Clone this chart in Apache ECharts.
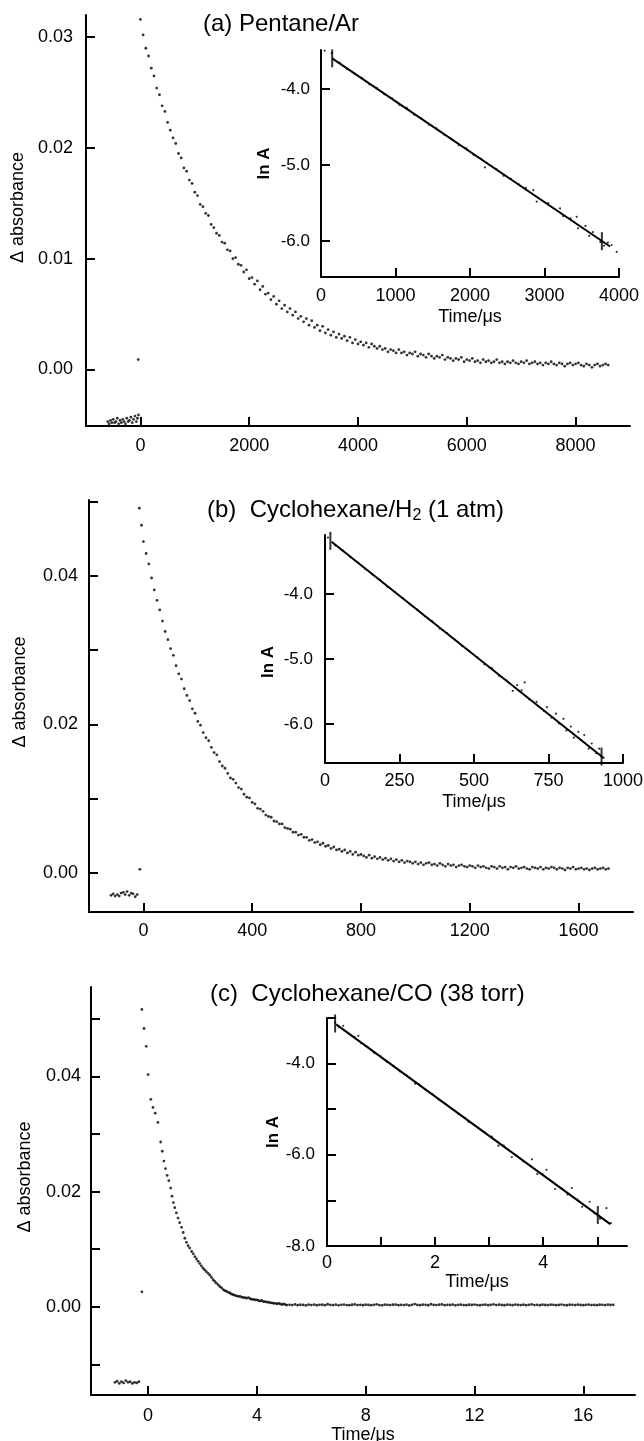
<!DOCTYPE html>
<html>
<head>
<meta charset="utf-8">
<script src="https://cdn.jsdelivr.net/npm/echarts@6/dist/echarts.min.js"></script>
<style>
  html, body { margin: 0; padding: 0; background: #fff; }
  #chart { width: 644px; height: 1441px; }
</style>
</head>
<body>
<div id="chart"></div>
<script>
const FONT = '"Liberation Sans", Arial, Helvetica, sans-serif';

// ---- (a) Pentane/Ar : time in us, absorbance in milli-units ----
const aPre = [[-600,-4.7],[-575,-4.9],[-550,-4.6],[-525,-4.8],[-500,-4.5],[-475,-4.8],[-450,-4.7],[-425,-4.4],[-400,-4.9],[-375,-4.6],[-350,-4.8],[-325,-4.5],[-300,-4.7],[-275,-4.9],[-250,-4.4],[-225,-4.7],[-200,-4.6],[-175,-4.3],[-150,-4.8],[-125,-4.5],[-100,-4.2],[-75,-4.7],[-55,-4.4],[-35,-4.1],[-40,0.9]];
const aDecay = [[0,31.6],[50,30.2],[100,29.0],[150,28.3],[200,27.2],[250,26.5],[300,25.4],[350,24.8],[400,23.8],[450,23.3],[500,22.3],[550,21.6],[600,20.9],[650,20.4],[700,19.5],[750,19.1],[800,18.2],[850,17.9],[900,17.1],[950,16.8],[1000,16.0],[1050,15.7],[1100,14.9],[1150,14.7],[1200,14.1],[1250,13.9],[1300,13.1],[1350,12.8],[1400,12.3],[1450,12.1],[1500,11.5],[1550,11.4],[1600,10.8],[1650,10.7],[1700,10.0],[1750,10.1],[1800,9.5],[1850,9.4],[1900,8.8],[1950,9.0],[2000,8.2],[2050,8.3],[2100,7.7],[2150,8.0],[2200,7.2],[2250,7.5],[2300,6.8],[2350,6.9],[2400,6.3],[2450,6.6],[2500,5.9],[2550,6.2],[2600,5.5],[2650,5.8],[2700,5.2],[2750,5.5],[2800,4.9],[2850,5.2],[2900,4.6],[2950,4.8],[3000,4.3],[3050,4.6],[3100,4.0],[3150,4.4],[3200,3.8],[3250,4.0],[3300,3.5],[3350,3.9],[3400,3.3],[3450,3.6],[3500,3.1],[3550,3.4],[3600,2.9],[3650,3.2],[3700,2.8],[3750,3.0],[3800,2.6],[3850,2.9],[3900,2.4],[3950,2.7],[4000,2.3],
  [4050,2.5],[4100,2.2],[4150,2.4],[4200,2.0],[4250,2.3],[4300,2.1],[4350,1.9],[4400,2.1],[4450,1.8],[4500,1.9],[4550,1.6],[4600,1.8],[4650,1.7],[4700,1.5],[4750,1.8],[4800,1.5],[4850,1.6],[4900,1.3],[4950,1.5],[5000,1.4],[5050,1.6],[5100,1.2],[5150,1.4],[5200,1.3],[5250,1.1],[5300,1.4],[5350,1.2],[5400,1.0],[5450,1.2],[5500,1.1],[5550,1.3],[5600,0.9],[5650,1.1],[5700,1.0],[5750,0.8],[5800,1.0],[5850,0.9],[5900,1.1],[5950,0.7],[6000,0.9],[6050,0.8],[6100,1.0],[6150,0.7],[6200,0.8],[6250,0.6],[6300,0.9],[6350,0.7],[6400,0.8],[6450,0.6],[6500,0.7],[6550,0.9],[6600,0.6],[6650,0.7],[6700,0.5],[6750,0.7],[6800,0.6],[6850,0.8],[6900,0.6],[6950,0.5],[7000,0.7],[7050,0.6],[7100,0.8],[7150,0.5],[7200,0.6],[7250,0.7],[7300,0.5],[7350,0.6],[7400,0.4],[7450,0.6],[7500,0.5],[7550,0.7],[7600,0.5],[7650,0.4],[7700,0.6],[7750,0.5],[7800,0.3],[7850,0.5],[7900,0.6],[7950,0.4],[8000,0.5],[8050,0.6],[8100,0.4],[8150,0.3],[8200,0.5],[8250,0.4],[8300,0.2],[8350,0.4],[8400,0.5],[8450,0.3],[8500,0.4],[8550,0.5],[8600,0.4]];
const aLnA = [[50,-3.50],[143,-3.53],[250,-3.66],[350,-3.74],[450,-3.80],[550,-3.86],[650,-3.94],[750,-3.99],[850,-4.07],[950,-4.12],[1050,-4.21],[1150,-4.25],[1250,-4.34],[1350,-4.39],[1450,-4.47],[1550,-4.52],[1650,-4.60],[1750,-4.66],[1850,-4.74],[1950,-4.78],[2050,-4.87],[2150,-4.92],[2200,-5.03],[2350,-5.05],[2450,-5.14],[2550,-5.18],[2650,-5.25],[2750,-5.30],[2850,-5.33],[2895,-5.48],[3050,-5.50],[3208,-5.57],[3250,-5.67],[3350,-5.70],[3432,-5.68],[3450,-5.83],[3550,-5.80],[3600,-5.93],[3650,-5.88],[3750,-6.01],[3800,-6.06],[3850,-6.02],[3901,-6.05],[3969,-6.14]];
const aFit = [[150,-3.60],[3880,-6.07]];
const aFitMarks = [[150,-3.60],[3770,-6.00]];

// ---- (b) Cyclohexane/H2 (1 atm) ----
const bPre = [[-119,-3.0],[-111,-2.8],[-104,-3.1],[-96,-2.9],[-89,-3.1],[-82,-2.7],[-74,-2.6],[-67,-2.9],[-60,-2.5],[-52,-3.0],[-45,-2.7],[-38,-2.8],[-30,-3.2],[-23,-2.9],[-13,0.5]];
const bDecay = [[-15,49.1],[-7,46.8],[0,44.6],[10,43.0],[20,41.6],[30,39.7],[40,38.1],[50,36.7],[60,35.4],[70,33.9],[80,32.5],[90,31.4],[100,30.2],[110,29.3],[120,27.9],[130,26.8],[140,26.1],[150,24.8],[160,23.9],[170,23.2],[180,22.1],[190,21.5],[200,20.4],[210,19.9],[220,18.9],[230,18.2],[240,17.8],[250,16.9],[260,16.2],[270,15.9],[280,15.0],[290,14.4],[300,14.1],[310,13.4],[320,12.8],[330,12.6],[340,12.1],[350,11.5],[360,11.3],[370,10.6],[380,10.2],[390,10.1],[400,9.5],[410,9.3],[420,8.7],[430,8.6],[440,8.3],[450,7.8],[460,7.6],[470,7.5],[480,7.0],[490,6.9],[500,6.6],[510,6.6],[520,6.1],[530,6.0],[540,5.9],[550,5.5],[560,5.5],[570,5.1],[580,5.2],[590,4.8],[600,4.8],[610,4.4],[620,4.5],[630,4.1],[640,4.2],[650,3.8],[660,4.0],[670,3.6],[680,3.7],[690,3.3],[700,3.5],[710,3.1],[720,3.2],[730,2.9],[740,3.1],[750,2.7],[760,2.9],[770,2.5],[780,2.8],[790,2.4],[800,2.5],
  [810,2.3],[820,2.1],[830,2.4],[840,2.0],[850,2.2],[860,1.9],[870,2.1],[880,1.8],[890,2.0],[900,1.7],[910,1.9],[920,1.6],[930,1.8],[940,1.5],[950,1.7],[960,1.4],[970,1.6],[980,1.5],[990,1.3],[1000,1.5],[1010,1.2],[1020,1.4],[1030,1.1],[1040,1.3],[1050,1.4],[1060,1.1],[1070,1.2],[1080,1.0],[1090,1.3],[1100,1.1],[1110,0.9],[1120,1.2],[1130,1.0],[1140,1.1],[1150,0.8],[1160,1.0],[1170,1.1],[1180,0.9],[1190,0.8],[1200,1.0],[1210,0.9],[1220,0.7],[1230,1.0],[1240,0.8],[1250,0.9],[1260,0.7],[1270,0.6],[1280,0.9],[1290,0.8],[1300,0.6],[1310,0.9],[1320,0.7],[1330,0.8],[1340,0.5],[1350,0.8],[1360,0.7],[1370,0.9],[1380,0.6],[1390,0.7],[1400,0.8],[1410,0.6],[1420,0.5],[1430,0.8],[1440,0.7],[1450,0.6],[1460,0.8],[1470,0.5],[1480,0.7],[1490,0.6],[1500,0.8],[1510,0.7],[1520,0.5],[1530,0.7],[1540,0.6],[1550,0.4],[1560,0.7],[1570,0.6],[1580,0.8],[1590,0.5],[1600,0.6],[1610,0.7],[1620,0.5],[1630,0.6],[1640,0.4],[1650,0.6],[1660,0.7],[1670,0.5],[1680,0.6],[1690,0.7],[1700,0.5],[1710,0.6]];
const bLnA = [[10,-3.13],[35,-3.25],[60,-3.33],[85,-3.43],[110,-3.51],[135,-3.61],[160,-3.70],[185,-3.78],[210,-3.89],[235,-3.97],[260,-4.06],[285,-4.16],[310,-4.24],[335,-4.34],[360,-4.42],[385,-4.53],[410,-4.60],[435,-4.70],[460,-4.80],[485,-4.88],[510,-4.97],[535,-5.08],[560,-5.14],[585,-5.26],[610,-5.33],[630,-5.49],[645,-5.40],[660,-5.48],[670,-5.36],[685,-5.62],[710,-5.66],[735,-5.80],[745,-5.74],[760,-5.90],[775,-5.84],[785,-5.99],[800,-5.92],[810,-6.10],[825,-6.04],[835,-6.21],[850,-6.12],[860,-6.25],[870,-6.17],[885,-6.38],[895,-6.30],[910,-6.45],[920,-6.38],[935,-6.52]];
const bFit = [[22,-3.195],[934,-6.52]];
const bFitMarks = [[18,-3.18],[928,-6.50]];

// ---- (c) Cyclohexane/CO (38 torr) ----
const cPre = [[-1.22,-13.1],[-1.14,-12.9],[-1.06,-13.3],[-0.98,-13.0],[-0.90,-13.2],[-0.82,-12.8],[-0.74,-13.1],[-0.66,-13.0],[-0.58,-13.3],[-0.50,-13.1],[-0.42,-13.2],[-0.34,-13.0],[-0.23,2.6]];
const cDecay = [[-0.23,51.6],[-0.15,48.3],[-0.07,45.2],[0.0,40.3],[0.10,36.0],[0.18,34.6],[0.26,33.6],[0.36,32.0],[0.46,28.6],[0.52,27.0],[0.58,25.3],[0.64,24.0],[0.70,22.8],[0.76,21.9],[0.83,20.6],[0.88,19.2],[0.93,18.1],[0.98,17.2],[1.04,16.3],[1.10,15.4],[1.16,14.6],[1.23,13.8],[1.29,12.9],[1.35,11.9],[1.41,11.2],[1.47,10.6],[1.53,10.2],[1.60,9.6],[1.66,9.2],[1.72,8.7],[1.78,8.3],[1.84,7.9],[1.90,7.5],[1.96,7.1],[2.02,6.7],[2.08,6.4],[2.14,6.1],[2.21,5.8],[2.27,5.5],[2.33,5.1],[2.39,4.7],[2.45,4.4],[2.51,4.1],[2.58,3.8],[2.64,3.5],[2.70,3.3],[2.76,3.0],[2.82,2.8],[2.88,2.7],[2.95,2.5],[3.01,2.4],[3.07,2.2],[3.13,2.1],[3.19,2.0],[3.25,1.9],[3.32,1.8],[3.38,1.8],[3.44,1.7],[3.50,1.6],[3.56,1.6],[3.62,1.5],[3.69,1.6],[3.75,1.4],[3.81,1.3],[3.87,1.3],[3.93,1.2],[4.00,1.2],[4.06,1.1],[4.12,1.0],[4.18,1.1],[4.24,0.9],[4.30,0.9],[4.37,0.8],[4.43,0.8],[4.49,0.7],[4.55,0.7],[4.61,0.6],[4.67,0.6],[4.74,0.5],[4.80,0.6],[4.86,0.5],[4.92,0.4],[4.98,0.5],[5.04,0.4],[5.10,0.3],
  [5.2,0.35],[5.3,0.30],[5.4,0.42],[5.5,0.28],[5.6,0.36],[5.7,0.33],[5.8,0.25],[5.9,0.38],[6.0,0.31],[6.1,0.40],[6.2,0.27],[6.3,0.34],[6.4,0.36],[6.5,0.29],[6.6,0.45],[6.7,0.33],[6.8,0.30],[6.9,0.37],[7.0,0.26],[7.1,0.35],[7.2,0.39],[7.3,0.31],[7.4,0.28],[7.5,0.36],[7.6,0.42],[7.7,0.30],[7.8,0.34],[7.9,0.27],[8.0,0.38],[8.1,0.33],[8.2,0.29],[8.3,0.35],[8.4,0.44],[8.5,0.31],[8.6,0.26],[8.7,0.37],[8.8,0.33],[8.9,0.30],[9.0,0.36],[9.1,0.40],[9.2,0.28],[9.3,0.34],[9.4,0.31],[9.5,0.38],[9.6,0.25],[9.7,0.35],[9.8,0.48],[9.9,0.32],[10.0,0.29],[10.1,0.37],[10.2,0.34],[10.3,0.27],[10.4,0.45],[10.5,0.33],[10.6,0.30],[10.7,0.36],[10.8,0.41],[10.9,0.29],[11.0,0.35],[11.1,0.32],[11.2,0.38],[11.3,0.26],[11.4,0.34],[11.5,0.37],[11.6,0.30],[11.7,0.28],[11.8,0.36],[11.9,0.33],[12.0,0.40],[12.1,0.31],[12.2,0.27],[12.3,0.35],[12.4,0.38],[12.5,0.29],[12.6,0.34],[12.7,0.43],[12.8,0.30],[12.9,0.36],[13.0,0.32],[13.1,0.27],[13.2,0.37],[13.3,0.34],[13.4,0.29],[13.5,0.39],[13.6,0.33],[13.7,0.30],[13.8,0.36],[13.9,0.28],[14.0,0.35],[14.1,0.41],[14.2,0.31],[14.3,0.34],[14.4,0.27],[14.5,0.37],[14.6,0.32],[14.7,0.30],[14.8,0.38],[14.9,0.35],[15.0,0.29],[15.1,0.33],[15.2,0.40],[15.3,0.31],[15.4,0.27],[15.5,0.36],[15.6,0.34],[15.7,0.30],[15.8,0.37],[15.9,0.32],[16.0,0.28],[16.1,0.35],[16.2,0.39],[16.3,0.31],[16.4,0.33],[16.5,0.29],[16.6,0.36],[16.7,0.34],[16.8,0.30],[16.9,0.37],[17.0,0.32],[17.1,0.35]];
const cLnA = [[0.15,-3.10],[0.22,-3.20],[0.30,-3.17],[0.39,-3.33],[0.51,-3.42],[0.58,-3.39],[0.63,-3.55],[0.75,-3.63],[0.87,-3.76],[0.99,-3.84],[1.11,-3.96],[1.23,-4.05],[1.35,-4.17],[1.47,-4.26],[1.63,-4.44],[1.71,-4.46],[1.83,-4.58],[1.95,-4.67],[2.07,-4.79],[2.19,-4.88],[2.31,-4.99],[2.43,-5.10],[2.55,-5.19],[2.62,-5.28],[2.79,-5.40],[2.91,-5.50],[3.05,-5.60],[3.17,-5.80],[3.27,-5.80],[3.42,-6.05],[3.51,-6.02],[3.63,-6.14],[3.79,-6.10],[3.89,-6.42],[3.99,-6.43],[4.06,-6.33],[4.22,-6.75],[4.35,-6.74],[4.45,-6.87],[4.53,-6.73],[4.63,-6.98],[4.72,-7.14],[4.86,-7.03],[4.95,-7.28],[5.05,-7.40],[5.17,-7.17],[5.25,-7.50]];
const cFit = [[0.17,-3.14],[5.24,-7.52]];
const cFitMarks = [[0.15,-3.12],[5.01,-7.32]];

// ---- ticks and labels ----
const aMainXTicks = [0, 2000, 4000, 6000, 8000];
const aMainYTicks = [0, 0.01, 0.02, 0.03];
const aInsetXTicks = [1000, 2000, 3000, 4000];
const aInsetXLabels = [0, 1000, 2000, 3000, 4000];
const aInsetYTicks = [-6, -5, -4];
const bMainXTicks = [0, 400, 800, 1200, 1600];
const bMainYTicks = [0, 0.01, 0.02, 0.03, 0.04, 0.05];
const bMainYLabels = [0, 0.02, 0.04];
const bInsetXTicks = [250, 500, 750, 1000];
const bInsetXLabels = [0, 250, 500, 750, 1000];
const bInsetYTicks = [-6, -5, -4];
const cMainXTicks = [0, 4, 8, 12, 16];
const cMainYTicks = [-0.01, 0, 0.01, 0.02, 0.03, 0.04, 0.05];
const cMainYLabels = [0, 0.02, 0.04];
const cInsetXTicks = [1, 2, 3, 4, 5];
const cInsetXLabels = [0, 2, 4];
const cInsetYTicks = [-7, -6, -5, -4, -3];
const cInsetYLabels = [-8, -6, -4];

const milli = d => d.map(p => [p[0], p[1] / 1000]);
const black = '#000';

function xAx(grid, min, max, ticks, labels, o) {
  return {
    type: 'value', gridIndex: grid, min: min, max: max, position: 'bottom',
    axisLine: { show: true, onZero: false, lineStyle: { color: black, width: 2 } },
    axisTick: { show: true, inside: true, length: 9, customValues: ticks, lineStyle: { color: black, width: 2 } },
    axisLabel: { show: true, customValues: labels, margin: o.margin, color: black, fontSize: 18, fontFamily: FONT,
      formatter: v => Number(v).toFixed(o.dp || 0) },
    splitLine: { show: false },
    name: o.name || '', nameLocation: 'middle', nameGap: o.nameGap || 30,
    nameTextStyle: { color: black, fontSize: 18, fontFamily: FONT }
  };
}
function yAx(grid, min, max, ticks, labels, o) {
  return {
    type: 'value', gridIndex: grid, min: min, max: max, position: 'left',
    axisLine: { show: true, onZero: false, lineStyle: { color: black, width: 2 } },
    axisTick: { show: true, inside: true, length: 9, customValues: ticks, lineStyle: { color: black, width: 2 } },
    axisLabel: { show: true, customValues: labels, margin: o.margin, color: black, fontSize: o.fs || 18, fontFamily: FONT,
      formatter: v => Number(v).toFixed(o.dp) },
    splitLine: { show: false },
    name: o.name, nameLocation: 'middle', nameGap: o.nameGap,
    nameTextStyle: { color: black, fontSize: o.nfs || 18, fontWeight: o.bold ? 'bold' : 'normal', fontFamily: FONT,
      padding: o.pad || 0 }
  };
}
function dots(i, data, size) {
  return { type: 'scatter', xAxisIndex: i, yAxisIndex: i, data: data, symbol: 'circle', symbolSize: size,
    itemStyle: { color: black }, silent: true };
}
function fitLine(i, data) {
  return { type: 'line', xAxisIndex: i, yAxisIndex: i, data: data, symbol: 'none',
    lineStyle: { color: black, width: 2 }, silent: true };
}
function marks(i, data) {
  return { type: 'scatter', xAxisIndex: i, yAxisIndex: i, data: data, symbol: 'rect', symbolSize: [2, 18],
    itemStyle: { color: black }, silent: true };
}

const rich = {
  t: { fontSize: 24, fontWeight: 'normal', fontFamily: FONT, color: black, lineHeight: 28 },
  s: { fontSize: 16, fontWeight: 'normal', fontFamily: FONT, color: black, lineHeight: 14, verticalAlign: 'bottom' }
};
const titleStyle = { fontWeight: 'normal', fontSize: 24, fontFamily: FONT, color: black, rich: rich };

const chart = echarts.init(document.getElementById('chart'));
chart.setOption({
  animation: false,
  backgroundColor: '#fff',
  title: [
    { text: '{t|(a) Pentane/Ar}', left: 203, top: 10, padding: 0, textStyle: titleStyle },
    { text: '{t|(b)  Cyclohexane/H}{s|2}{t| (1 atm)}', left: 207, top: 496, padding: 0, textStyle: titleStyle },
    { text: '{t|(c)  Cyclohexane/CO (38 torr)}', left: 210, top: 980, padding: 0, textStyle: titleStyle }
  ],
  grid: [
    { left: 86, top: 15, width: 544, height: 411, outerBoundsMode: 'none' },
    { left: 321, top: 50, width: 298, height: 227, outerBoundsMode: 'none' },
    { left: 89, top: 500, width: 544, height: 412, outerBoundsMode: 'none' },
    { left: 325, top: 535, width: 298, height: 228, outerBoundsMode: 'none' },
    { left: 91, top: 987, width: 544, height: 408, outerBoundsMode: 'none' },
    { left: 327, top: 1018, width: 300, height: 228, outerBoundsMode: 'none' }
  ],
  xAxis: [
    xAx(0, -1000, 9000, aMainXTicks, aMainXTicks, { margin: 11 }),
    xAx(1, 0, 4000, aInsetXTicks, aInsetXLabels, { margin: 10, name: 'Time/\u03bcs', nameGap: 31 }),
    xAx(2, -200, 1800, bMainXTicks, bMainXTicks, { margin: 10 }),
    xAx(3, 0, 1000, bInsetXTicks, bInsetXLabels, { margin: 9, name: 'Time/\u03bcs', nameGap: 30 }),
    xAx(4, -2.1, 17.9, cMainXTicks, cMainXTicks, { margin: 12, name: 'Time/\u03bcs', nameGap: 27 }),
    xAx(5, 0, 5.55, cInsetXTicks, cInsetXLabels, { margin: 8, name: 'Time/\u03bcs', nameGap: 23 })
  ],
  yAxis: [
    yAx(0, -0.0051, 0.032, aMainYTicks, aMainYTicks, { margin: 13, dp: 2, name: '\u0394 absorbance', nameGap: 57, pad: [0, 0, 0, 26] }),
    yAx(1, -6.47, -3.49, aInsetYTicks, aInsetYTicks, { margin: 11, dp: 1, fs: 17, name: 'ln A', nameGap: 48, nfs: 17, bold: true }),
    yAx(2, -0.00525, 0.0502, bMainYTicks, bMainYLabels, { margin: 11, dp: 2, name: '\u0394 absorbance', nameGap: 60, pad: [0, 0, 0, 28] }),
    yAx(3, -6.6, -3.09, bInsetYTicks, bInsetYTicks, { margin: 12, dp: 1, fs: 17, name: 'ln A', nameGap: 48, nfs: 17, bold: true, pad: [0, 26, 0, 0] }),
    yAx(4, -0.0153, 0.0555, cMainYTicks, cMainYLabels, { margin: 10, dp: 2, name: '\u0394 absorbance', nameGap: 57, pad: [0, 0, 0, 28] }),
    yAx(5, -8, -3, cInsetYTicks, cInsetYLabels, { margin: 12, dp: 1, fs: 17, name: 'ln A', nameGap: 44, nfs: 17, bold: true })
  ],
  series: [
    dots(0, milli(aPre), 2.8),
    dots(0, milli(aDecay), 2.8),
    dots(1, aLnA, 2.2),
    fitLine(1, aFit),
    marks(1, aFitMarks),
    dots(2, milli(bPre), 2.8),
    dots(2, milli(bDecay), 2.8),
    dots(3, bLnA, 2.2),
    fitLine(3, bFit),
    marks(3, bFitMarks),
    dots(4, milli(cPre), 2.8),
    dots(4, milli(cDecay), 2.8),
    dots(5, cLnA, 2.2),
    fitLine(5, cFit),
    marks(5, cFitMarks)
  ]
});
</script>
</body>
</html>
